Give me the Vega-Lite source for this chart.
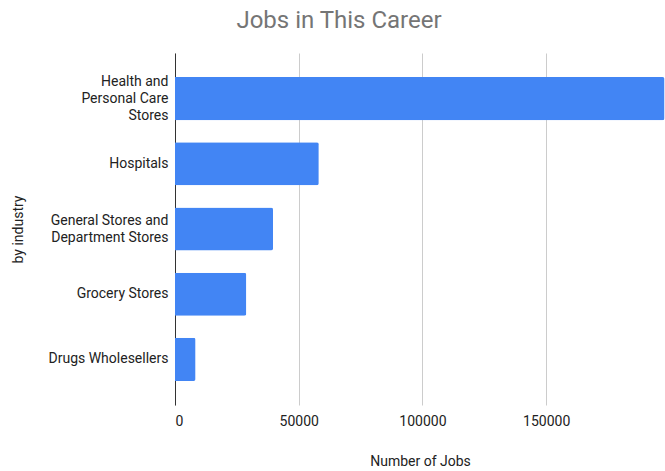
{
  "$schema": "https://vega.github.io/schema/vega-lite/v6.json",
  "autosize": "none",
  "width": 490,
  "height": 352,
  "padding": {"left": 175, "top": 53, "right": 0, "bottom": 66},
  "background": "white",
  "title": {
    "text": "Jobs in This Career",
    "font": "Roboto",
    "fontSize": 24,
    "fontWeight": "normal",
    "color": "#757575",
    "anchor": "middle",
    "dx": -81,
    "offset": 20
  },
  "data": {
    "values": [
      {"industry": "Health and|Personal Care|Stores", "jobs": 197800},
      {"industry": "Hospitals", "jobs": 58100},
      {"industry": "General Stores and|Department Stores", "jobs": 39600},
      {"industry": "Grocery Stores", "jobs": 28800},
      {"industry": "Drugs Wholesellers", "jobs": 8300}
    ]
  },
  "mark": {"type": "bar", "color": "#4285F4", "cornerRadiusEnd": 2},
  "encoding": {
    "y": {
      "field": "industry",
      "type": "nominal",
      "sort": null,
      "scale": {"paddingInner": 0.34, "paddingOuter": 0.37},
      "axis": {
        "title": "by industry",
        "titleFont": "Roboto",
        "titleFontSize": 14,
        "titleFontWeight": "normal",
        "titleColor": "#222222",
        "titleX": -157,
        "titleBaseline": "middle",
        "labelExpr": "split(datum.value, '|')",
        "labelFont": "Roboto",
        "labelFontSize": 14,
        "labelColor": "#222222",
        "labelLineHeight": 17,
        "labelBaseline": "middle",
        "labelOffset": {
          "condition": [
            {"test": "length(split(datum.value, '|')) == 3", "value": -17},
            {"test": "length(split(datum.value, '|')) == 2", "value": -8.5}
          ],
          "value": 0
        },
        "labelPadding": 7,
        "ticks": false,
        "domainColor": "#333333",
        "labelLimit": 300
      }
    },
    "x": {
      "field": "jobs",
      "type": "quantitative",
      "scale": {"domain": [0, 198000], "nice": false},
      "axis": {
        "title": "Number of Jobs",
        "titleFont": "Roboto",
        "titleFontSize": 14,
        "titleFontWeight": "normal",
        "titleColor": "#222222",
        "titlePadding": 26,
        "values": [0, 50000, 100000, 150000],
        "format": "d",
        "labelFont": "Roboto",
        "labelFontSize": 14,
        "labelColor": "#222222",
        "labelPadding": 9,
        "ticks": false,
        "domain": false,
        "gridColor": "#cccccc"
      }
    }
  },
  "config": {"view": {"stroke": null}}
}
